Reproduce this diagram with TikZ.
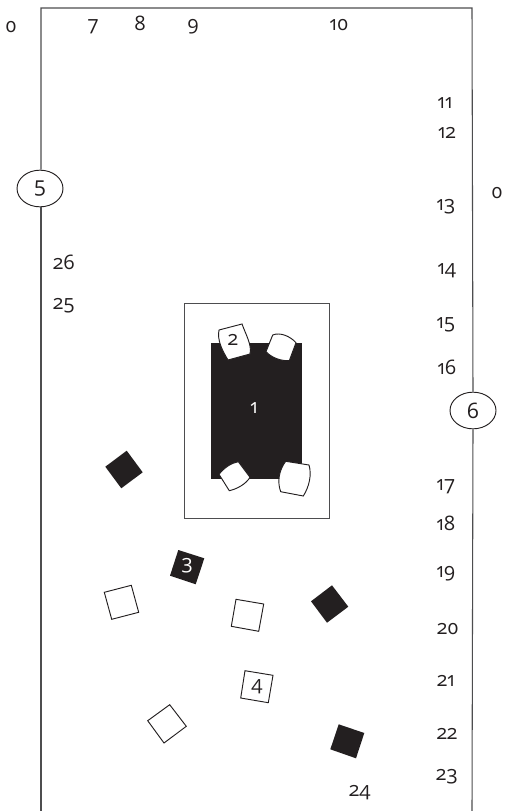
\documentclass[tikz,border=0pt]{standalone}
\usepackage{fontspec}
\setmainfont[Numbers=OldStyle]{Open Sans}
\definecolor{ink}{HTML}{231F20}
\definecolor{frameink}{HTML}{4D4D4F}
\tikzset{
  x=0.75pt,y=-0.75pt,
  lab/.style={inner sep=0pt,text=ink,font=\fontsize{15}{17}\selectfont},
  inv/.style={inner sep=0pt,text=white,font=\fontsize{15}{17}\selectfont},
  wall/.style={draw=frameink,line width=0.8pt},
  round door/.style={draw=ink,line width=0.7pt,ellipse,minimum width=34.5pt,minimum height=27.5pt,inner sep=0pt,text=ink,font=\fontsize{16}{18}\selectfont},
  chair/.style={draw=ink,fill=white,line width=0.7pt},
  blk/.style={fill=ink},
  wht/.style={draw=ink,fill=white,line width=0.7pt,line join=miter},
}
\usetikzlibrary{shapes.geometric}
\begin{document}
\begin{tikzpicture}
\useasboundingbox (0,0) rectangle (504,811);
\clip (0,0) rectangle (504,811);
\fill[white] (0,0) rectangle (504,811);
% doors
\node[round door] (door5) at (40,188.5) {5};
\node[round door] (door6) at (473,410.5) {6};
\coordinate (tl) at (41,8);
\coordinate (tr) at (472,8);
\coordinate (bl) at (41,811);
\coordinate (br) at (472,811);
\draw[wall] (door5.north) ++(1,0) -- (tl) -- (tr) -- (door6.north);
\draw[wall] (door5.south) ++(1,0) -- (bl);
\draw[wall] (door6.south) -- (br);
% room and table
\draw[draw=frameink,line width=0.75pt] (184,303) rectangle (329,518);
\fill[blk] (211,343) rectangle (302,479);
\node[inv] (n1) at (254,408) {1};
% chairs
\draw[chair] (219,330) -- (242,324) .. controls (246,335) and (252,345) .. (250,354) -- (228,360) .. controls (222,350) and (217,340) .. (219,330) -- cycle;
\node[lab] (n2) at (233,340) {2};
\draw[chair] (272.7,335) .. controls (280,332) and (290,336) .. (296,342.7) -- (289.3,360.7) .. controls (281,361) and (272,358) .. (266,351.7) -- cycle;
\draw[chair] (219,474.3) .. controls (224,468) and (231,463) .. (238.3,461.7) -- (250,477.3) .. controls (246,484) and (237,489) .. (229.3,490.7) -- cycle;
\draw[chair] (285.7,461.3) -- (309,465) .. controls (312,475) and (309,487) .. (303.3,496) -- (280.7,491.7) .. controls (277,482) and (279,470) .. (285.7,461.3) -- cycle;
% squares
\fill[blk] (126.7,450.7) -- (142.7,472.3) -- (121.3,488.3) -- (105.3,466.7) -- cycle;
\fill[blk] (178.3,550) -- (204.3,558.3) -- (195.7,584.3) -- (170,575.7) -- cycle;
\node[inv] (n3) at (187,566) {3};
\draw[wht] (104.3,592.3) -- (131.3,585.3) -- (138.7,612.3) -- (111.7,619.3) -- cycle;
\draw[wht] (236,599.3) -- (263.7,604) -- (258.7,631.3) -- (231.3,626.3) -- cycle;
\fill[blk] (332,585.3) -- (348.3,606.7) -- (327,622.7) -- (311,601.3) -- cycle;
\draw[wht] (245,670.7) -- (273,675.3) -- (268.3,702.7) -- (240.7,698) -- cycle;
\node[lab] (n4) at (257,687) {4};
\draw[wht] (169.7,704.7) -- (186.3,726.3) -- (164,743) -- (147.7,720.7) -- cycle;
\fill[blk] (338.7,724.3) -- (364.3,733) -- (356,758.3) -- (330.3,749.3) -- cycle;
% labels
\node[lab] (l0) at (11,27) {0};
\node[lab] (l7) at (93,27) {7};
\node[lab] (l8) at (140,23) {8};
\node[lab] (l9) at (193,27) {9};
\node[lab] (l10) at (339,25) {10};
\node[lab] (l11) at (445,103) {11};
\node[lab] (l12) at (447,133) {12};
\node[lab] (l13) at (446,207) {13};
\node[lab] (l14) at (447,271) {14};
\node[lab] (l15) at (446,325) {15};
\node[lab] (l16) at (447,367) {16};
\node[lab] (l17) at (446,487) {17};
\node[lab] (l18) at (446,523) {18};
\node[lab] (l19) at (446,574) {19};
\node[lab] (l20) at (448,629) {20};
\node[lab] (l21) at (446,681) {21};
\node[lab] (l22) at (447,734) {22};
\node[lab] (l23) at (447,777) {23};
\node[lab] (l24) at (360,793) {24};
\node[lab] (l26) at (64,262) {26};
\node[lab] (l25) at (64,306) {25};
\node[lab] (l0b) at (497,193) {0};
\end{tikzpicture}
\end{document}
